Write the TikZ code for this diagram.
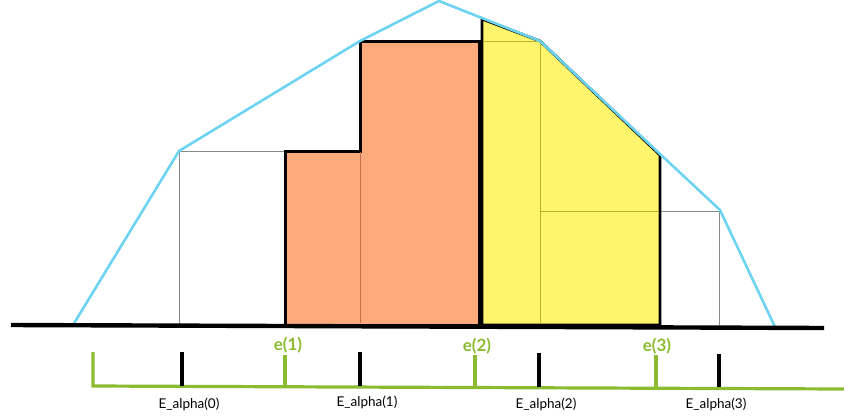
\documentclass[tikz,border=0pt]{standalone}
\usepackage{fontspec}
\setmainfont{Lato}
\definecolor{skyb}{HTML}{6CD4F0}
\definecolor{orfill}{HTML}{FCAA7C}
\definecolor{orline}{HTML}{C8704A}
\definecolor{yefill}{HTML}{FFF56C}
\definecolor{yeline}{HTML}{B8B030}
\definecolor{grn}{HTML}{8ABB30}
\definecolor{grayb}{HTML}{8A8A8A}
\tikzset{
  curve/.style={draw=skyb, line width=2.6pt, line join=miter},
  graybox/.style={draw=grayb, line width=1pt},
  orreg/.style={fill=orfill, draw=black, line width=3pt, line join=miter},
  yereg/.style={fill=yefill, draw=black, line width=2.8pt, line join=miter},
  orinner/.style={draw=orline, line width=1pt},
  yeinner/.style={draw=yeline, line width=1pt},
  base/.style={draw=black, line width=4.4pt},
  gaxis/.style={draw=grn, line width=3.2pt},
  btick/.style={draw=black, line width=3.2pt},
  elab/.style={text=grn, font=\bfseries\fontsize{17}{19}\selectfont, inner sep=0pt},
  alab/.style={text=black, font=\fontsize{13.5}{15}\selectfont, inner sep=0pt}
}
\begin{document}
\begin{tikzpicture}[x=1pt,y=-1pt]
\useasboundingbox (0,0) rectangle (844,418);
% gray boxes
\draw[graybox] (179,325) -- (179,151) -- (285,151);
\draw[graybox] (660,211) -- (719,211) -- (719,325);
% orange region
\draw[orreg] (285,325) -- (285,151) -- (360,151) -- (360,41) -- (479,41) -- (479,325) -- cycle;
\draw[orinner] (360,152) -- (360,323);
% yellow region
\draw[yereg] (482,325) -- (482,19) -- (540,41) -- (660,155) -- (660,325) -- cycle;
\draw[yeinner] (483,41) -- (540,41) -- (540,324);
\draw[yeinner] (540,211) -- (659,211);
% blue curve
\coordinate (p0) at (73,325);
\coordinate (p1) at (179,151);
\coordinate (p2) at (360,41);
\coordinate (p3) at (439,1);
\coordinate (p4) at (540,41);
\coordinate (p5) at (660,154);
\coordinate (p6) at (720,210);
\coordinate (p7) at (775,327);
\draw[curve] (p0) -- (p1) -- (p2) -- (p3) -- (p4) -- (p5) -- (p6) -- (p7);
% baseline
\coordinate (bl) at (11,325);
\coordinate (br) at (824,328);
\draw[base] (bl) -- (br);
% green axis
\coordinate (g0) at (93,352);
\coordinate (g0b) at (93,386);
\coordinate (gr) at (844,389);
\draw[gaxis] (g0) -- (g0b) -- (gr);
\coordinate (t1) at (285,355); \coordinate (t1b) at (285,387);
\coordinate (t2) at (475,355); \coordinate (t2b) at (475,388);
\coordinate (t3) at (656,355); \coordinate (t3b) at (656,388);
\draw[gaxis] (t1) -- (t1b);
\draw[gaxis] (t2) -- (t2b);
\draw[gaxis] (t3) -- (t3b);
\coordinate (k0) at (182,352); \coordinate (k0b) at (182,386);
\coordinate (k1) at (360,352); \coordinate (k1b) at (360,386);
\coordinate (k2) at (539,353); \coordinate (k2b) at (539,387);
\coordinate (k3) at (719,354); \coordinate (k3b) at (719,387);
\draw[btick] (k0) -- (k0b);
\draw[btick] (k1) -- (k1b);
\draw[btick] (k2) -- (k2b);
\draw[btick] (k3) -- (k3b);
% labels
\node[elab] (e1) at (288,345) {e(1)};
\node[elab] (e2) at (477,346) {e(2)};
\node[elab] (e3) at (657,346) {e(3)};
\node[alab] (a0) at (189,404) {E\_alpha(0)};
\node[alab] (a1) at (367,402) {E\_alpha(1)};
\node[alab] (a2) at (546,404) {E\_alpha(2)};
\node[alab] (a3) at (716,404) {E\_alpha(3)};
\end{tikzpicture}
\end{document}
